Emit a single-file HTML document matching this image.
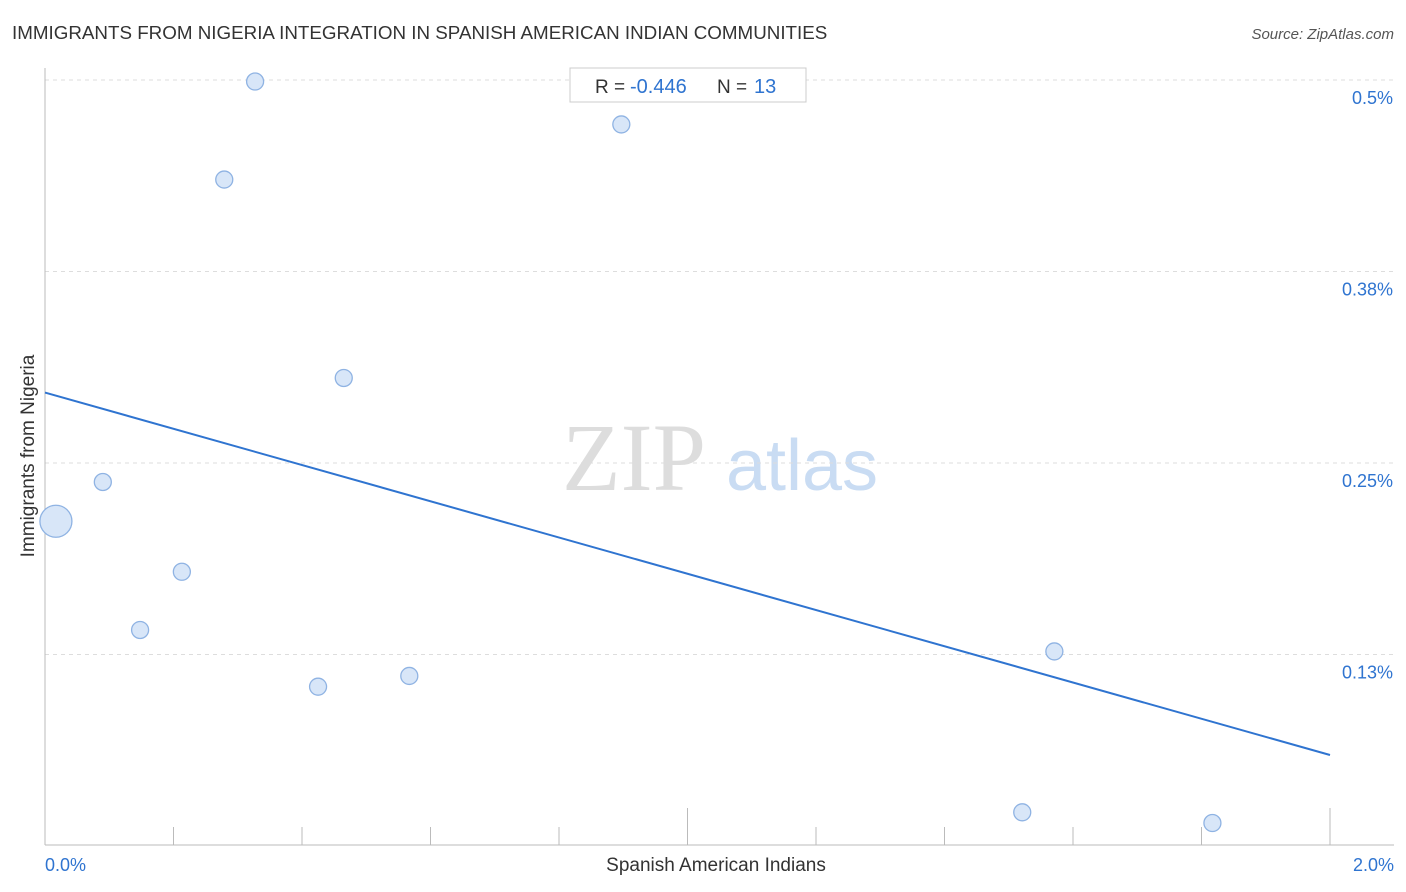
<!DOCTYPE html>
<html><head><meta charset="utf-8"><style>
body{margin:0;background:#fff;font-family:"Liberation Sans",Arial,sans-serif}
svg{display:block}
</style></head><body>
<svg width="1406" height="892" id="chart">
<text x="12" y="39" font-size="18.8" fill="#333">IMMIGRANTS FROM NIGERIA INTEGRATION IN SPANISH AMERICAN INDIAN COMMUNITIES</text>
<text x="1394" y="39" font-size="15" fill="#555" text-anchor="end" font-style="italic">Source: ZipAtlas.com</text>
<g>
<text x="634" y="490" font-size="96" fill="#ddd" font-family="Liberation Serif,serif" text-anchor="middle">ZIP</text>
<text x="802" y="490" font-size="72" fill="#c9dcf3" text-anchor="middle">atlas</text>
</g>
<g id="grid"></g>
<g id="axes"></g>
<g id="marks"></g>
<g>
<rect x="570" y="68" width="236" height="34" fill="#fff" stroke="#ccc"/>
<text x="595" y="93" font-size="19" fill="#333">R =</text>
<text x="630" y="93" font-size="20" fill="#2f74d0">-0.446</text>
<text x="717" y="93" font-size="19" fill="#333">N =</text>
<text x="754" y="93" font-size="20" fill="#2f74d0">13</text>
</g>
<text x="716" y="871" font-size="19" fill="#333" text-anchor="middle">Spanish American Indians</text>
<text transform="translate(34,456) rotate(-90)" font-size="19" fill="#333" text-anchor="middle">Immigrants from Nigeria</text>
</svg>
<script>
const xVals=[0.017,0.090,0.148,0.213,0.279,0.327,0.425,0.465,0.567,0.897,1.571,1.521,1.817];
const yVals=[0.212,0.2376,0.141,0.179,0.435,0.499,0.104,0.3055,0.111,0.471,0.127,0.022,0.015];
const sizes=[16,8.5,8.5,8.5,8.5,8.5,8.5,8.5,8.5,8.5,8.5,8.5,8.5];
const yTicks=[0.5,0.375,0.25,0.125];
const yTickLabels=["0.5%","0.38%","0.25%","0.13%"];
const trendStart=0.296, trendEnd=0.0594;
const ns="http://www.w3.org/2000/svg";
const X=v=>45+v/2*1285;
const Y=v=>80+(0.5-v)*1532;
function mk(t,a,p){const e=document.createElementNS(ns,t);for(const k in a)e.setAttribute(k,a[k]);document.getElementById(p).appendChild(e);return e;}
yTicks.forEach((t,i)=>{
 const l=mk('line',{x1:45,x2:1394,y1:Y(t),y2:Y(t),stroke:'#ddd','stroke-dasharray':'4,4'},'grid');
 
 
 const tx=mk('text',{x:1393,y:Y(t)+24,'font-size':18,fill:'#2f74d0','text-anchor':'end'},'axes');
 tx.textContent=yTickLabels[i];
 
 
});
let a=mk('line',{x1:45,x2:45,y1:68,y2:845,stroke:'#bbb'},'axes');


a=mk('line',{x1:45,x2:1394,y1:845,y2:845,stroke:'#bbb'},'axes');


for(let i=1;i<=10;i++){
 const v=i*0.2;
 const t=mk('line',{x1:X(v),x2:X(v),y1:(i==5||i==10)?808:827,y2:845,stroke:'#bbb'},'axes');
 
 
}
[["0.0%",45,'start'],["2.0%",1394,'end']].forEach(d=>{
 const t=mk('text',{x:d[1],y:871,'font-size':18,fill:'#2f74d0','text-anchor':d[2]},'axes');
 t.textContent=d[0];
 
 
});
const tl=mk('line',{x1:X(0),y1:Y(trendStart),x2:X(2),y2:Y(trendEnd),stroke:'#2f74d0','stroke-width':2},'marks');


xVals.forEach((x,i)=>{
 const c=mk('circle',{cx:X(x),cy:Y(yVals[i]),r:sizes[i],fill:'#d8e6f8',stroke:'#8fb3e3','stroke-width':1.3},'marks');
 
 
});
</script>
</body></html>
